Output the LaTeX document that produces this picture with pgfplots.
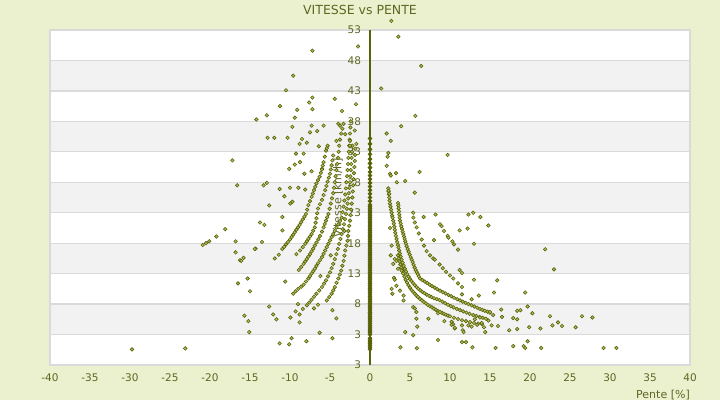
\documentclass[border=0pt]{standalone}
\usepackage{pgfplots}
\pgfplotsset{compat=1.18}
\usepackage{fontspec}
\setmainfont{DejaVu Sans}
\definecolor{bgc}{RGB}{235,241,206}
\definecolor{band}{RGB}{242,242,242}
\definecolor{gridc}{RGB}{218,218,218}
\definecolor{txt}{RGB}{95,102,35}
\definecolor{mk}{RGB}{88,98,6}
\definecolor{mkf}{RGB}{180,190,95}
\pgfplotsset{pts/.style={only marks, mark=square*, mark size=1.25bp,
  mark options={rotate=45, draw=mk, fill=mkf, line width=0.6bp}},
  ptsd/.style={only marks, mark=square*, mark size=1.4bp,
  mark options={rotate=45, draw=mk, fill=mk, line width=0.6bp}}}
\tikzset{ylab/.style={anchor=east, xshift=-5.5bp, font=\fontsize{10.5bp}{12bp}\selectfont, text=txt}}
\begin{document}
\begin{tikzpicture}
\fill[bgc] (-50bp,-35bp) rectangle (670bp,365bp);
\path[use as bounding box] (-50bp,-35bp) rectangle (670bp,365bp);
\begin{axis}[
  at={(0,0)}, anchor=south west,
  width=640bp, height=335bp, scale only axis,
  xmin=-40, xmax=40, ymin=-2, ymax=53,
  clip=false,
  axis line style={draw=none},
  xtick={-40,-35,...,40},
  xticklabels={-40,-35,-30,-25,-20,-15,-10,-5,0,5,10,15,20,25,30,35,40},
  ytick=\empty,
  major tick length=0pt,
  tick label style={font=\fontsize{10.5bp}{12bp}\selectfont, text=txt},
  xticklabel style={yshift=-5bp},
]
% bands and grid
\fill[white] (axis cs:-40,-2) rectangle (axis cs:40,53);
\fill[band] (axis cs:-40,43) rectangle (axis cs:40,48);
\fill[band] (axis cs:-40,33) rectangle (axis cs:40,38);
\fill[band] (axis cs:-40,23) rectangle (axis cs:40,28);
\fill[band] (axis cs:-40,13) rectangle (axis cs:40,18);
\fill[band] (axis cs:-40,3) rectangle (axis cs:40,8);
\draw[gridc, line width=1.2bp] (axis cs:-40,3) -- (axis cs:40,3);
\draw[gridc, line width=1.2bp] (axis cs:-40,8) -- (axis cs:40,8);
\draw[gridc, line width=1.2bp] (axis cs:-40,13) -- (axis cs:40,13);
\draw[gridc, line width=1.2bp] (axis cs:-40,18) -- (axis cs:40,18);
\draw[gridc, line width=1.2bp] (axis cs:-40,23) -- (axis cs:40,23);
\draw[gridc, line width=1.2bp] (axis cs:-40,28) -- (axis cs:40,28);
\draw[gridc, line width=1.2bp] (axis cs:-40,33) -- (axis cs:40,33);
\draw[gridc, line width=1.2bp] (axis cs:-40,38) -- (axis cs:40,38);
\draw[gridc, line width=1.2bp] (axis cs:-40,43) -- (axis cs:40,43);
\draw[gridc, line width=1.2bp] (axis cs:-40,48) -- (axis cs:40,48);
\draw[gridc, line width=1.2bp] (axis cs:-40,-2) rectangle (axis cs:40,53);
\draw[mk, line width=1.3bp] (axis cs:0,-2) -- (axis cs:0,53);
% y tick labels
\node[ylab] at (axis cs:0,53) {53};
\node[ylab] at (axis cs:0,48) {48};
\node[ylab] at (axis cs:0,43) {43};
\node[ylab] at (axis cs:0,38) {38};
\node[ylab] at (axis cs:0,33) {33};
\node[ylab] at (axis cs:0,28) {28};
\node[ylab] at (axis cs:0,23) {23};
\node[ylab] at (axis cs:0,18) {18};
\node[ylab] at (axis cs:0,13) {13};
\node[ylab] at (axis cs:0,8) {8};
\node[ylab] at (axis cs:0,3) {3};
\node[ylab] at (axis cs:0,-2) {3};
% x = 0 column
\addplot[ptsd] coordinates {(0,0.6)(0,0.9)(0,1.2)(0,1.5)(0,1.8)(0,2.1)(0,2.4)
(0,3.0)(0,3.3)(0,3.6)(0,3.9)(0,4.2)(0,4.5)(0,4.8)(0,5.1)(0,5.4)(0,5.7)(0,6.0)(0,6.3)(0,6.6)(0,6.9)(0,7.2)(0,7.5)(0,7.8)(0,8.1)(0,8.4)(0,8.7)(0,9.0)(0,9.3)(0,9.6)(0,9.9)(0,10.2)(0,10.5)(0,10.8)(0,11.1)(0,11.4)(0,11.7)(0,12.0)(0,12.3)(0,12.6)(0,12.9)(0,13.2)(0,13.5)(0,13.8)(0,14.1)(0,14.4)(0,14.7)(0,15.0)(0,15.3)(0,15.6)(0,15.9)(0,16.2)(0,16.5)(0,16.8)(0,17.1)(0,17.4)(0,17.7)(0,18.0)(0,18.3)(0,18.6)(0,18.9)(0,19.2)(0,19.5)(0,19.8)(0,20.1)(0,20.4)(0,20.7)(0,21.0)(0,21.3)(0,21.6)(0,21.9)(0,22.2)(0,22.5)(0,22.8)(0,23.1)(0,23.4)(0,23.7)(0,24.0)(0,24.3)
(0,24.9)(0,25.5)(0,26.1)(0,26.7)(0,27.3)(0,27.9)(0,28.5)(0,29.1)(0,29.7)(0,30.4)(0,31.1)(0,31.8)(0,32.6)(0,33.4)(0,34.3)(0,35.2)};
% right side dense arcs
\addplot[pts] coordinates {(2.29,27.0)(2.33,26.5)(2.37,26.0)(2.41,25.5)(2.45,25.0)(2.5,24.5)(2.56,24.0)(2.63,23.5)(2.70,23.0)(2.77,22.5)(2.83,22.2)(2.90,21.7)(2.97,21.2)(3.04,20.7)(3.10,20.2)(3.16,19.7)(3.24,19.2)(3.32,18.7)(3.40,18.2)(3.48,17.7)(3.56,17.3)(3.64,16.8)(3.74,16.3)(3.84,15.8)(3.96,15.3)(4.08,14.8)(4.22,14.3)(4.36,13.8)(4.50,13.35)(4.65,12.9)(4.82,12.5)(5.0,12.1)(5.18,11.8)(5.38,11.45)(5.6,11.1)(5.82,10.8)(6.05,10.5)(6.3,10.25)(6.55,10.0)(6.8,9.8)(7.1,9.55)(7.4,9.35)(7.7,9.15)(8.0,8.95)(8.35,8.8)(8.7,8.65)(9.05,8.4)(9.4,8.15)(9.75,7.9)(10.1,7.65)(10.45,7.45)(10.85,7.2)(11.25,7.0)(11.65,6.8)(12.05,6.6)(12.45,6.4)(12.9,6.2)(13.3,6.05)(13.7,5.9)(14.1,5.75)(14.5,5.6)};
\addplot[pts] coordinates {(3.50,24.6)(3.54,24.2)(3.58,23.7)(3.62,23.2)(3.66,22.7)(3.70,22.2)(3.75,21.7)(3.83,21.25)(3.91,20.8)(4.0,20.35)(4.08,19.9)(4.17,19.5)(4.25,19.1)(4.33,18.7)(4.41,18.3)(4.5,17.9)(4.58,17.5)(4.70,17.05)(4.83,16.6)(4.96,16.15)(5.08,15.7)(5.21,15.3)(5.33,14.9)(5.45,14.45)(5.58,14.0)(5.7,13.6)(5.84,13.25)(5.98,12.9)(6.11,12.55)(6.25,12.2)(6.55,11.95)(6.85,11.7)(7.15,11.45)(7.45,11.2)(7.75,10.95)(8.1,10.7)(8.4,10.45)(8.75,10.2)(9.1,9.95)(9.45,9.75)(9.8,9.5)(10.15,9.3)(10.5,9.05)(10.9,8.8)(11.25,8.6)(11.6,8.4)(11.95,8.2)(12.3,8.0)(12.7,7.8)(13.05,7.6)(13.4,7.4)(13.75,7.2)(14.05,7.05)(14.35,6.9)(14.7,6.75)(15.0,6.6)};
\addplot[pts] coordinates {(3.5,16.0)(3.6,15.5)(3.7,15.0)(3.8,14.5)(3.9,14.0)(4.02,13.5)(4.15,13.0)(4.3,12.5)(4.45,12.0)(4.62,11.55)(4.8,11.1)(5.0,10.7)(5.2,10.3)(5.4,10.0)(5.6,9.7)(5.8,9.4)(6.0,9.15)(6.25,8.85)(6.5,8.6)(6.75,8.35)(7.0,8.1)(7.25,7.85)(7.5,7.65)(7.75,7.45)(8.0,7.25)(8.25,7.05)(8.5,6.85)(8.75,6.7)(9.0,6.55)(9.25,6.4)(9.5,6.25)(9.75,6.1)(10.0,6.0)(10.5,5.75)(11.0,5.55)(11.5,5.35)(12.0,5.2)(12.5,5.05)(13.0,4.9)(13.5,4.8)(14.0,4.7)};
% right side outer sparse arcs
\addplot[pts] coordinates {(5.42,22.2)(5.6,21.4)(5.83,20.6)(6.1,19.6)(6.46,18.6)(6.75,17.6)(7.08,16.7)(7.5,16.0)(7.9,15.5)(8.1,15.3)(8.7,14.5)(9.1,13.9)(9.5,13.3)(10.0,12.7)(10.4,12.2)(11.0,11.4)(11.5,10.8)
(8.75,21.1)(8.96,20.8)(9.25,20.0)(9.7,19.2)(9.8,18.9)(10.3,18.3)(10.5,17.8)(11.0,16.95)};
% right side scattered
\addplot[pts] coordinates {(2.67,54.5)(3.54,51.9)(6.4,47.1)(1.4,43.4)(5.67,38.9)(3.9,37.2)(2.08,36.0)(2.6,34.8)(2.3,32.8)(2.2,32.2)(9.7,32.5)(2.08,30.7)(2.5,29.4)(2.6,29.1)(3.25,29.5)(6.2,29.7)(3.35,28.0)(4.4,28.2)(5.6,26.3)(2.3,26.6)(2.4,26.1)(5.4,23.0)
(6.7,22.3)(8.2,22.7)(12.3,22.7)(12.9,23.0)(13.8,22.3)(14.8,20.9)(11.2,20.1)(12.2,20.4)(13.0,17.9)(8.0,18.5)(11.2,13.6)(11.5,13.1)(13.0,12.0)(15.9,11.9)(15.5,9.9)(19.4,9.9)(13.6,9.4)(11.5,9.6)(12.7,8.8)(16.4,7.1)(16.5,5.9)(18.4,6.9)(18.8,7.0)(19.7,7.6)(20.3,6.5)(17.9,5.7)(18.4,5.5)(22.5,6.0)(26.5,6.0)(27.8,5.8)(22.8,4.5)(23.5,5.0)(24.0,4.4)(25.7,4.2)(21.3,4.0)(19.9,4.2)(18.4,3.9)(17.4,3.7)(16.0,4.4)(15.2,4.5)(14.4,3.4)(21.9,17.0)(23.0,13.7)
(8.5,2.1)(11.5,1.75)(12.0,1.75)(12.8,0.9)(15.7,0.8)(17.9,1.1)(19.2,1.1)(19.4,0.8)(19.7,1.9)(21.4,0.8)(29.2,0.8)(30.8,0.8)(3.8,0.9)(5.86,0.74)
(10.4,4.7)(10.6,4.0)(11.5,4.5)(11.6,3.7)(11.7,3.4)(12.3,4.5)(12.7,4.3)(13.4,4.6)(13.96,4.9)(14.25,4.2)(13.1,5.5)(13.75,5.8)(15.0,6.7)(15.4,6.2)(14.8,5.3)
(2.7,17.6)(3.1,15.4)(3.3,15.1)(2.9,14.6)(3.5,13.8)(3.96,13.5)(3.0,12.3)(3.1,12.0)(2.7,10.5)(2.8,9.7)(3.3,11.0)(3.75,10.2)(4.2,9.4)(4.2,8.6)(5.4,7.5)(5.6,7.3)(5.8,6.7)(5.8,5.6)(5.9,4.3)(4.4,3.4)(5.4,2.9)(8.5,6.5)(8.75,6.7)(10.2,5.1)(10.2,4.6)(10.6,4.1)(2.6,16.0)(2.5,20.5)(7.3,5.6)(9.3,5.2)};
% left side arcs
\addplot[pts] coordinates {(-10.96,17.05)(-10.73,17.4)(-10.5,17.8)(-10.25,18.2)(-10.0,18.6)(-9.8,19.0)(-9.6,19.4)(-9.4,19.8)(-9.2,20.2)(-9.0,20.6)(-8.8,21.0)(-8.6,21.45)(-8.4,21.9)(-8.2,22.35)(-8.0,22.8)(-7.85,23.5)(-7.7,24.25)(-7.5,24.9)(-7.3,25.6)(-7.15,26.15)(-7.0,26.7)(-6.85,27.25)(-6.7,27.8)(-6.5,28.35)(-6.3,28.9)(-6.15,29.55)(-6.0,30.2)(-5.9,30.75)(-5.8,31.3)(-5.65,32.2)(-5.5,33.2)(-5.4,33.6)(-5.3,34.0)};
\addplot[pts] coordinates {(-9.2,16.2)(-8.75,16.8)(-8.4,17.35)(-8.1,17.9)(-7.9,18.3)(-7.7,18.7)(-7.5,19.1)(-7.3,19.5)(-7.1,20.05)(-6.9,20.6)(-6.8,21.35)(-6.7,22.1)(-6.6,22.9)(-6.5,23.7)(-6.25,24.4)(-6.0,25.1)(-5.8,25.9)(-5.6,26.7)(-5.45,27.4)(-5.3,28.1)(-5.15,28.75)(-5.0,29.4)(-4.9,30.1)(-4.8,30.8)(-4.7,31.6)(-4.6,32.4)};
\addplot[pts] coordinates {(-8.9,13.6)(-8.6,14.1)(-8.3,14.6)(-8.1,15.0)(-7.9,15.4)(-7.7,15.8)(-7.5,16.2)(-7.3,16.65)(-7.1,17.1)(-6.9,17.6)(-6.7,18.1)(-6.45,18.65)(-6.25,19.2)(-6.0,19.9)(-5.8,20.6)(-5.65,21.15)(-5.5,21.7)(-5.35,22.25)(-5.2,22.8)(-5.05,23.65)(-4.9,24.5)(-4.75,25.35)(-4.6,26.2)(-4.5,27.1)(-4.4,28.0)(-4.3,29.0)(-4.2,30.0)(-4.1,31.0)(-4.0,32.0)(-3.92,33.0)(-3.85,34.0)(-3.75,35.0)(-3.6,36.0)(-3.45,36.8)(-3.3,37.6)};
\addplot[pts] coordinates {(-9.6,9.7)(-9.3,10.1)(-8.96,10.5)(-8.6,10.85)(-8.3,11.2)(-8.0,11.7)(-7.7,12.2)(-7.5,12.6)(-7.3,13.0)(-7.1,13.4)(-6.9,13.8)(-6.7,14.25)(-6.5,14.7)(-6.25,15.2)(-6.0,15.7)(-5.8,16.25)(-5.6,16.8)(-5.4,17.35)(-5.2,17.9)(-5.0,18.45)(-4.8,19.0)(-4.6,19.5)(-4.4,20.0)(-4.2,20.55)(-3.96,21.1)(-3.75,21.65)(-3.54,22.2)(-3.42,23.1)(-3.3,24.0)(-3.2,25.0)(-3.1,26.0)(-3.02,27.0)(-2.95,28.0)(-2.87,29.0)(-2.8,30.0)(-2.75,31.0)(-2.7,32.0)(-2.65,33.0)(-2.6,34.0)(-2.55,35.0)(-2.5,36.0)(-2.45,37.0)(-2.4,38.0)};
\addplot[pts] coordinates {(-7.9,7.8)(-7.6,8.25)(-7.3,8.7)(-7.0,9.2)(-6.7,9.7)(-6.35,10.25)(-6.0,10.8)(-5.75,11.35)(-5.5,11.9)(-5.25,12.55)(-5.0,13.2)(-4.8,13.9)(-4.6,14.6)(-4.4,15.4)(-4.2,16.2)(-4.02,17.05)(-3.85,17.9)(-3.7,18.7)(-3.54,19.5)(-3.4,20.3)(-3.25,21.1)(-3.12,21.95)(-3.0,22.8)(-2.9,23.65)(-2.8,24.5)(-2.72,25.35)(-2.65,26.2)(-2.57,27.1)(-2.5,28.0)(-2.45,29.0)(-2.4,30.0)(-2.35,31.0)(-2.3,32.0)(-2.25,33.0)(-2.2,34.0)};
\addplot[pts] coordinates {(-5.4,8.6)(-5.1,9.15)(-4.8,9.7)(-4.6,10.25)(-4.4,10.8)(-4.18,11.5)(-3.96,12.2)(-3.78,12.85)(-3.6,13.5)(-3.45,14.3)(-3.3,15.1)(-3.2,15.95)(-3.1,16.8)(-2.95,17.6)(-2.8,18.4)(-2.75,19.2)(-2.7,20.0)(-2.6,20.85)(-2.5,21.7)(-2.42,22.6)(-2.35,23.5)(-2.28,24.5)(-2.2,25.5)(-2.15,26.5)(-2.1,27.5)(-2.05,28.5)(-2.0,29.5)(-1.95,30.5)(-1.9,31.5)(-1.87,32.5)(-1.85,33.5)};
% left side scattered
\addplot[pts] coordinates {(-9.6,45.5)(-10.5,43.1)(-11.25,40.5)(-12.9,39.0)(-14.2,38.3)(-9.1,39.9)(-9.4,38.6)(-7.2,41.9)(-7.6,41.1)(-7.2,40.0)(-4.4,41.7)(-3.5,39.7)(-1.75,40.8)(-9.7,37.1)(-12.8,35.3)(-11.96,35.3)(-10.3,35.3)(-17.2,31.6)(-16.6,27.5)(-13.3,27.5)(-12.9,27.9)(-11.3,26.9)(-10.7,25.7)(-12.6,24.2)(-9.96,24.5)(-7.2,49.6)(-1.5,50.3)
(-8.5,35.1)(-8.8,34.3)(-7.9,34.5)(-7.3,37.3)(-7.5,36.2)(-6.6,36.4)(-5.8,37.3)(-6.4,33.9)(-9.25,32.7)(-8.3,32.7)(-9.4,30.9)(-8.75,31.3)(-10.1,30.2)(-8.2,29.4)(-7.3,29.8)(-6.0,30.1)(-10.0,27.1)(-8.96,27.1)(-8.1,26.8)(-9.7,24.8)(-10.96,22.3)
(-3.96,37.6)(-3.75,37.3)(-4.2,34.8)(-2.5,34.8)(-2.5,34.0)(-1.7,34.3)(-3.1,35.9)(-1.9,36.5)
(-13.75,21.4)(-13.2,21.0)(-18.1,20.3)(-19.2,19.1)(-20.9,17.7)(-20.5,18.0)(-20.1,18.3)(-16.8,18.3)(-13.5,18.2)(-16.8,16.5)(-14.3,17.1)(-16.25,15.2)(-15.8,15.6)(-11.9,15.5)(-11.4,16.1)(-10.95,20.1)(-16.5,11.4)(-15.3,12.2)(-15.0,10.1)(-10.6,11.7)(-12.6,7.6)(-15.7,6.1)(-15.2,5.2)(-15.1,3.4)(-12.1,6.3)(-11.7,5.5)(-9.96,5.8)(-9.3,6.8)(-8.8,6.3)(-8.8,5.0)(-11.3,1.55)(-10.1,1.4)(-9.8,2.4)(-7.96,1.9)(-6.3,3.3)(-4.7,2.4)(-4.7,7.0)(-4.2,5.65)(-29.75,0.57)(-23.1,0.73)(-14.4,17.05)(-16.1,15.1)
(-7.0,7.3)(-6.5,7.9)(-8.4,7.2)(-9.0,8.0)(-3.2,20.0)(-4.9,16.0)(-6.2,12.6)};
% titles
\node[font=\fontsize{12.5bp}{14bp}\selectfont, text=txt] at (axis cs:-1.25,56.3) {VITESSE vs PENTE};
\node[rotate=90, font=\fontsize{11bp}{13bp}\selectfont, text=txt] at (axis cs:-4,25.4) {Vitesse [km/h]};
\node[anchor=east, inner sep=0pt, font=\fontsize{11bp}{13bp}\selectfont, text=txt] at (axis cs:40,-6.93) {Pente [\%]};
\end{axis}
\end{tikzpicture}
\end{document}
